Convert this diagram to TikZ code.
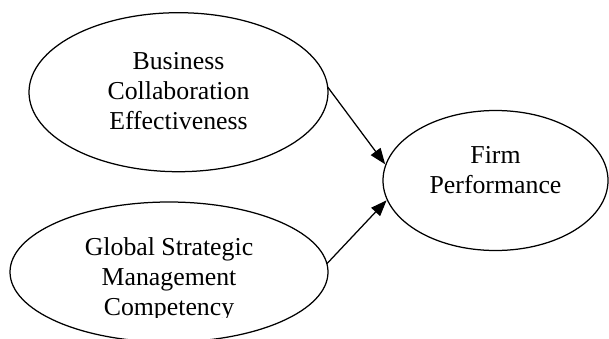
\documentclass[tikz,border=0pt]{standalone}
\usepackage{fontspec}
\setmainfont{Liberation Serif}
\usetikzlibrary{arrows.meta, shapes.geometric}

\begin{document}
\begin{tikzpicture}[
      x=1pt, y=-1pt,
      oval/.style={ellipse, draw, line width=1.25pt, inner sep=0pt, outer sep=0pt},
      vname/.style={font=\fontsize{25.8pt}{30pt}\selectfont, align=center,
                    inner sep=0pt},
      arr/.style={-{Triangle[length=16pt, width=12pt]}, line width=1.25pt,
                  shorten >=1pt},
    ]
      \useasboundingbox (0,0) rectangle (609,338);

      \node[oval, minimum width=299pt, minimum height=159pt] (bce) at (178.5,92.2) {};
      \node[oval, minimum width=225pt, minimum height=140pt] (fp) at (495.5,180.5) {};
      \node[oval, minimum width=318pt, minimum height=140pt] (gsm) at (169,272) {};

      \node[vname, yshift=1pt] (bcetext) at (bce) {Business\\Collaboration\\Effectiveness};
      \node[vname, yshift=10.5pt] (fptext) at (fp) {Firm\\Performance};
      \begin{scope}
        \clip (0,0) rectangle (609,317);
        \node[vname, yshift=-7.5pt] (gsmtext) at (gsm)
              {Global Strategic\\Management\\Competency};
      \end{scope}

      \draw[arr] (bce.2) -- (fp.172);
      \draw[arr] (gsm.3) -- (fp.190);
    \end{tikzpicture}
\end{document}
